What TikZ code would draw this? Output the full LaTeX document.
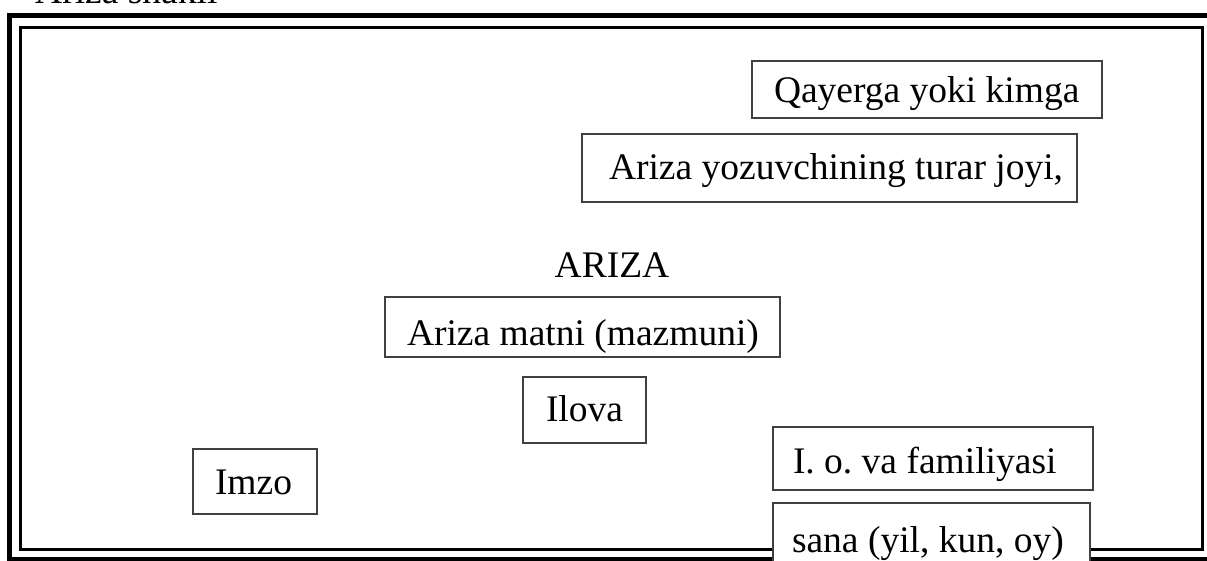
\documentclass[tikz,border=0pt]{standalone}
\usepackage{fontspec}
\setmainfont{Liberation Serif}
\frenchspacing
\newcommand\bxcontent[4]{\hbox to #1pt{\hspace{#2pt}\raisebox{-#3pt}{#4}\hfil}}
\begin{document}
\begin{tikzpicture}[x=1pt,y=-1pt,
  every node/.style={font=\fontsize{37.5}{44}\selectfont},
  bx/.style={draw=black!75, line width=1.3pt, fill=white, inner sep=0pt,
    text height=0pt, text depth=0pt},
  outerframe/.style={draw=black, line width=4.5pt},
  innerframe/.style={draw=black, line width=2.8pt}]
\useasboundingbox (0,0) rectangle (1207,561);
% frames
\draw[outerframe] (9.7,15.7) rectangle (1214,559);
\draw[innerframe] (20.5,27.5) rectangle (1202.5,549.7);
% title
\node[anchor=base west, inner sep=0pt] (title) at (35,4) {Ariza shakli};
% boxes
\node[bx, minimum width=350pt, minimum height=57pt] (q) at (927,89.5)
  {\bxcontent{350}{22}{13.5}{Qayerga yoki kimga}};
\node[bx, minimum width=495pt, minimum height=68pt] (y) at (829.5,168)
  {\bxcontent{495}{27}{12}{Ariza yozuvchining turar joyi,}};
\node[anchor=base, inner sep=0pt] (ariza) at (612,278) {ARIZA};
\node[bx, minimum width=395pt, minimum height=60pt] (m) at (582.5,327)
  {\bxcontent{395}{22}{18}{Ariza matni (mazmuni)}};
\node[bx, minimum width=123pt, minimum height=66pt] (ilova) at (584.5,410)
  {\bxcontent{123}{23}{11}{Ilova}};
\node[bx, minimum width=124pt, minimum height=65pt] (imzo) at (255,481.5)
  {\bxcontent{124}{22}{12.5}{Imzo}};
\node[bx, minimum width=320pt, minimum height=63pt] (io) at (933,458.5)
  {\bxcontent{320}{20}{14.5}{I. o. va familiyasi}};
\node[bx, minimum width=317pt, minimum height=72pt] (sana) at (931.5,539)
  {\bxcontent{317}{19}{13}{sana (yil, kun, oy)}};
\end{tikzpicture}
\end{document}
